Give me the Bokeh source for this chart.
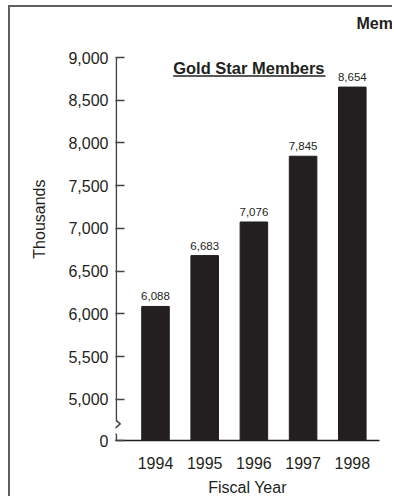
from bokeh.plotting import figure
from bokeh.models import (ColumnDataSource, FixedTicker, NumeralTickFormatter, Label, Range1d,
                          Title)
from bokeh.embed import file_html
from bokeh.resources import INLINE
from bokeh.core.properties import value

# ---- data ----
years = [1994, 1995, 1996, 1997, 1998]
members = [6088, 6683, 7076, 7845, 8654]
member_labels = ["6,088", "6,683", "7,076", "7,845", "8,654"]
y_ticks = [5000, 5500, 6000, 6500, 7000, 7500, 8000, 8500, 9000]
series_title = "Gold Star Members"
chart_title = "Mem"
y_title = "Thousands"
x_title = "Fiscal Year"

FONT = "Liberation Sans"
INK = "#231f20"

x_start, x_end = 1993.187, 1998.553
y_start, y_end = 4520, 9000

p = figure(width=384, height=491, output_backend="svg", toolbar_location=None,
           x_range=Range1d(x_start, x_end), y_range=Range1d(y_start, y_end),
           min_border_left=105, min_border_right=15, min_border_top=49, min_border_bottom=58)
p.styles = {"margin-left": "8px", "margin-top": "5px",
            "border-left": "2px solid #5f5f5f", "border-top": "2px solid #5f5f5f"}
p.title.text = ""
p.title_location = None

p.outline_line_color = None
p.grid.visible = False
p.background_fill_color = "white"
p.border_fill_color = "white"

# blank spacer between the frame and the chart title, then the title itself
p.add_layout(Title(text=" ", standoff=8, text_font=FONT, text_font_size="10px"), "above")
p.add_layout(Title(text=chart_title, align="left", offset=241, standoff=10,
                   text_font=FONT, text_font_size="16px", text_font_style="bold",
                   text_color=INK), "above")

src = ColumnDataSource(dict(x=years, top=members, lab=member_labels))
p.vbar(x="x", top="top", bottom=y_start, width=0.56, source=src,
       fill_color=INK, line_color=INK)
p.text(x="x", y="top", text="lab", source=src, y_offset=-6,
       text_align="center", text_baseline="bottom",
       text_font=value(FONT), text_font_size="11.5px", text_color=INK)

# x axis
xa = p.below[0]
xa.ticker = FixedTicker(ticks=years)
xa.major_label_overrides = {y: str(y) for y in years}
xa.major_tick_line_color = None
xa.minor_tick_line_color = None
xa.axis_line_color = INK
xa.axis_line_width = 1.5
xa.major_label_standoff = 10
xa.major_label_text_font = FONT
xa.major_label_text_font_size = "16px"
xa.major_label_text_color = INK
xa.axis_label = x_title
xa.axis_label_text_font = FONT
xa.axis_label_text_font_size = "16px"
xa.axis_label_text_font_style = "normal"
xa.axis_label_text_color = INK
xa.axis_label_standoff = 7

# y axis
ya = p.left[0]
ya.ticker = FixedTicker(ticks=[y_start] + y_ticks)
ya.formatter = NumeralTickFormatter(format="0,0")
ya.major_label_overrides = {y_start: "0"}
ya.axis_line_color = None
ya.major_tick_in = 9
ya.major_tick_out = 0
ya.major_tick_line_color = "#444444"
ya.major_tick_line_width = 1.5
ya.minor_tick_line_color = None
ya.major_label_standoff = 7
ya.major_label_text_font = FONT
ya.major_label_text_font_size = "16px"
ya.major_label_text_color = INK

# y axis title as a left-side title (rotated)
p.add_layout(Title(text=y_title, align="right", offset=122, standoff=36,
                   text_font=FONT, text_font_size="16px", text_font_style="normal",
                   text_color=INK), "left")

# y axis line with a scale break
px_x = (x_end - x_start) / 264.0
px_y = (y_end - y_start) / 384.0
ax = x_start + 0.8 * px_x
p.line([ax, ax, ax + 4 * px_x, ax - 5 * px_x, ax, ax],
       [y_end, y_start + 20 * px_y, y_start + 16.7 * px_y, y_start + 9.3 * px_y, y_start + 6 * px_y, y_start],
       line_color="#444444", line_width=1.6)

# series caption, underlined
gx0 = x_start + 57.7 * px_x
gx1 = x_start + 210 * px_x
p.add_layout(Label(x=gx0, y=y_end - 11 * px_y, text=series_title, text_align="left",
                   text_baseline="middle", text_font=FONT, text_font_size="16.5px",
                   text_font_style="bold", text_color=INK))
p.segment(x0=[gx0], y0=[y_end - 18.5 * px_y], x1=[gx1], y1=[y_end - 18.5 * px_y],
          line_color=INK, line_width=1.5)

open("out.html", "w").write(file_html(p, INLINE))
